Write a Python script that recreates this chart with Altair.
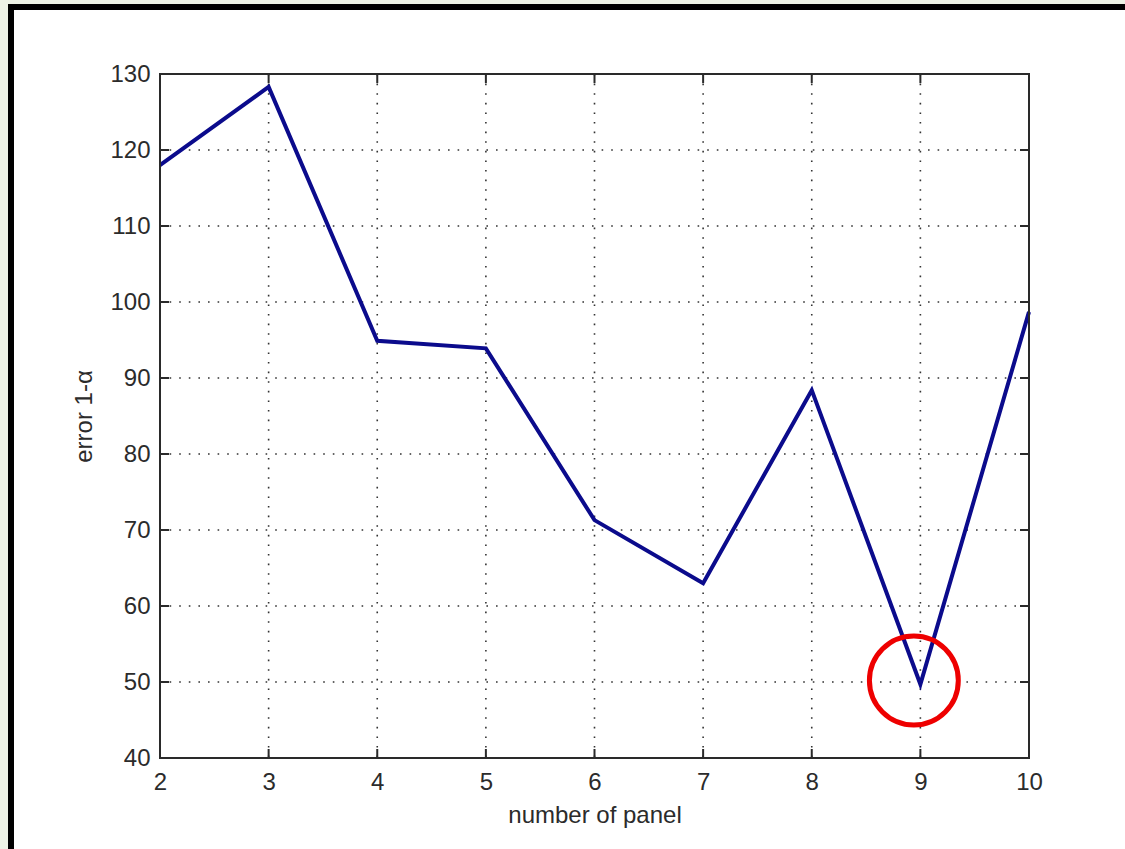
import altair as alt
import pandas as pd

# Error of the fitted model versus the number of panels
panels = [2, 3, 4, 5, 6, 7, 8, 9, 10]
errors = [118.0, 128.3, 94.9, 93.9, 71.3, 63.0, 88.4, 49.7, 98.7]

x_ticks = [2, 3, 4, 5, 6, 7, 8, 9, 10]
y_ticks = [40, 50, 60, 70, 80, 90, 100, 110, 120, 130]

# Highlighted minimum
marker_x = [8.94]
marker_y = [50.2]

W, H = 869, 684
FONT = "Liberation Sans"
TEXT = "#2b2b2b"

df = pd.DataFrame({"panel": panels, "error": errors})
gx = pd.DataFrame({"panel": [v for v in x_ticks if v not in (x_ticks[0], x_ticks[-1])]})
gy = pd.DataFrame({"error": [v for v in y_ticks if v not in (y_ticks[0], y_ticks[-1])]})
tx = pd.DataFrame({"panel": x_ticks})
ty = pd.DataFrame({"error": y_ticks})
mk = pd.DataFrame({"panel": marker_x, "error": marker_y})

xs = alt.Scale(domain=[x_ticks[0], x_ticks[-1]], nice=False, zero=False)
ys = alt.Scale(domain=[y_ticks[0], y_ticks[-1]], nice=False, zero=False)

x_axis = alt.Axis(
    values=x_ticks, title="number of panel", grid=False, ticks=False,
    domain=False, labelPadding=12, titlePadding=9, zindex=2,
    labelFlush=False, labelOverlap=False,
)
y_axis = alt.Axis(
    values=y_ticks, title="error 1-α", grid=False, ticks=False,
    domain=False, labelPadding=10, titlePadding=13, zindex=2,
    labelFlush=False, labelOverlap=False,
)
X = alt.X("panel:Q", scale=xs, axis=x_axis)
Y = alt.Y("error:Q", scale=ys, axis=y_axis)

one = pd.DataFrame({"a": [0]})

# White figure panel with its black frame
frame = alt.Chart(one).mark_rect(fill="white", stroke="black", strokeWidth=6).encode(
    x=alt.value(-149), x2=alt.value(W + 200),
    y=alt.value(-67), y2=alt.value(H + 200),
)

dot = dict(color="#333333", strokeWidth=1.6, strokeDash=[1.6, 8])
grid_v = alt.Chart(gx).mark_rule(**dot).encode(x=X, y=alt.value(0), y2=alt.value(H))
grid_h = alt.Chart(gy).mark_rule(**dot).encode(y=Y, x=alt.value(0), x2=alt.value(W))

line = alt.Chart(df).mark_line(color="#0b0b8c", strokeWidth=4).encode(x=X, y=Y)

box = alt.Chart(one).mark_rect(fill=None, stroke="#2a2a2a", strokeWidth=2).encode(
    x=alt.value(0), x2=alt.value(W), y=alt.value(0), y2=alt.value(H)
)

tk = dict(color="#2a2a2a", strokeWidth=2)
ticks_b = alt.Chart(tx).mark_rule(**tk).encode(x=X, y=alt.value(H - 9), y2=alt.value(H))
ticks_t = alt.Chart(tx).mark_rule(**tk).encode(x=X, y=alt.value(0), y2=alt.value(9))
ticks_l = alt.Chart(ty).mark_rule(**tk).encode(y=Y, x=alt.value(0), x2=alt.value(9))
ticks_r = alt.Chart(ty).mark_rule(**tk).encode(y=Y, x=alt.value(W - 9), x2=alt.value(W))

marker = alt.Chart(mk).mark_point(
    shape="circle", filled=False, stroke="#ee0000", strokeWidth=5, size=7900, opacity=1
).encode(x=X, y=Y)

chart = alt.layer(
    frame, grid_v, grid_h, line, box, ticks_b, ticks_t, ticks_l, ticks_r, marker
).properties(
    width=W, height=H,
    background="#eef3e6",
    autosize=alt.AutoSizeParams(type="none"),
    padding={"left": 160, "top": 74, "right": 96, "bottom": 91},
).configure_view(stroke=None).configure_axis(
    labelFont=FONT, labelFontSize=24, labelColor=TEXT,
    titleFont=FONT, titleFontSize=24, titleColor=TEXT, titleFontWeight="normal",
)

chart.save("out.html", embed_options={"renderer": "svg", "actions": False})
